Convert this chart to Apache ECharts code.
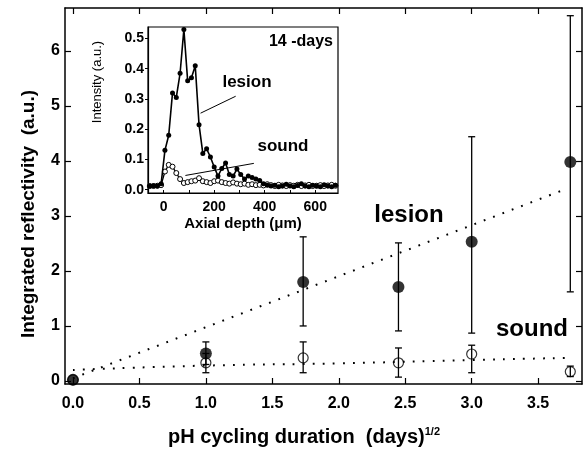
<!DOCTYPE html>
<html>
<head>
<meta charset="utf-8">
<script src="https://cdn.jsdelivr.net/npm/echarts@6/dist/echarts.min.js"></script>
<style>
html, body { margin: 0; padding: 0; background: #fff; }
#chart { width: 583px; height: 451px; }
</style>
</head>
<body>
<div id="chart"></div>
<script>
// 主图：积分反射率 vs pH循环时间的平方根
var sqrtDays = [0, 1, 1.732, 2.449, 3, 3.742];
var lesionVal = [0.02, 0.5, 1.8, 1.71, 2.53, 3.98];
var lesionLow = [null, 0.3, 1.0, 0.91, 0.87, 1.62];
var lesionHigh = [null, 0.71, 2.62, 2.51, 4.44, 6.64];
var soundVal = [0.02, 0.33, 0.42, 0.33, 0.49, 0.17];
var soundLow = [null, 0.15, 0.15, 0.07, 0.15, 0.08];
var soundHigh = [null, 0.5, 0.71, 0.6, 0.65, 0.27];

// 拟合虚线
var lesionFitX = [0, 3.72];
var lesionFitY = [0.05, 3.5];
var soundFitX = [0, 1, 2, 3, 3.72];
var soundFitY = [0.2, 0.28, 0.32, 0.38, 0.42];

var xTicks = [0, 0.5, 1, 1.5, 2, 2.5, 3, 3.5];
var yTicks = [0, 1, 2, 3, 4, 5, 6];

// 插图：14天 轴向深度剖面
var depthUm = [-55, -40, -25, -10, 5, 20, 35, 50, 65, 80, 95, 110, 125, 140, 155, 170, 185, 200, 215, 230,
    245, 260, 275, 290, 305, 320, 335, 350, 365, 380, 395, 410, 425, 440, 455, 470, 485, 500, 515, 530,
    545, 560, 575, 590, 605, 620, 635, 650, 665, 680];
var lesionProfile = [0.012, 0.013, 0.012, 0.02, 0.13, 0.18, 0.32, 0.305, 0.385, 0.53, 0.36, 0.37, 0.41, 0.215, 0.12, 0.135, 0.108, 0.075, 0.045, 0.07,
    0.088, 0.05, 0.045, 0.068, 0.05, 0.035, 0.045, 0.04, 0.035, 0.03, 0.02, 0.015, 0.012, 0.015, 0.01, 0.012, 0.018, 0.012, 0.01, 0.014,
    0.02, 0.012, 0.01, 0.015, 0.012, 0.01, 0.016, 0.012, 0.01, 0.015];
var soundProfile = [0.012, 0.012, 0.013, 0.015, 0.06, 0.082, 0.076, 0.055, 0.035, 0.022, 0.025, 0.028, 0.03, 0.038, 0.028, 0.025, 0.022, 0.028, 0.03, 0.025,
    0.022, 0.02, 0.024, 0.02, 0.018, 0.02, 0.016, 0.018, 0.015, 0.016, 0.014, 0.018, 0.015, 0.012, 0.016, 0.014, 0.012, 0.015, 0.013, 0.016,
    0.012, 0.014, 0.016, 0.012, 0.013, 0.015, 0.012, 0.014, 0.016, 0.013];
var insetXTicks = [0, 200, 400, 600];
var insetXMinor = [0, 100, 200, 300, 400, 500, 600];
var insetYTicks = [0, 0.1, 0.2, 0.3, 0.4, 0.5];

function pairs(xs, ys) {
    var out = [];
    for (var i = 0; i < xs.length; i++) {
        out.push([xs[i], ys[i]]);
    }
    return out;
}
function errData(xs, lo, hi) {
    var out = [];
    for (var i = 0; i < xs.length; i++) {
        if (lo[i] === null) continue;
        out.push([xs[i], lo[i], hi[i]]);
    }
    return out;
}
function errItem(params, api) {
    var x = api.value(0);
    var p1 = api.coord([x, api.value(1)]);
    var p2 = api.coord([x, api.value(2)]);
    var w = 3.5;
    var st = { stroke: '#000', lineWidth: 1.3 };
    return {
        type: 'group',
        children: [
            { type: 'line', shape: { x1: p1[0], y1: p1[1], x2: p2[0], y2: p2[1] }, style: st },
            { type: 'line', shape: { x1: p1[0] - w, y1: p1[1], x2: p1[0] + w, y2: p1[1] }, style: st },
            { type: 'line', shape: { x1: p2[0] - w, y1: p2[1], x2: p2[0] + w, y2: p2[1] }, style: st }
        ]
    };
}

var black = '#000';
var FONT = '"Liberation Sans", Arial, Helvetica, sans-serif';
var mainLine = { onZero: false, lineStyle: { color: black, width: 1.5 } };
var insetLine = { onZero: false, lineStyle: { color: black, width: 1.2 } };

var myChart = echarts.init(document.getElementById('chart'));
var option = {
    backgroundColor: '#fff',
    animation: false,
    textStyle: { fontFamily: FONT },
    grid: [
        { left: 65, right: 1, top: 8, bottom: 67 },
        { left: 148, top: 27, width: 190, height: 166, show: true, backgroundColor: '#fff',
          borderColor: black, borderWidth: 1.2, z: 5 }
    ],
    xAxis: [
        {
            gridIndex: 0, type: 'value', min: -0.06, max: 3.83,
            axisLine: mainLine,
            axisTick: { inside: true, length: 6, customValues: xTicks, lineStyle: { color: black, width: 1.2 } },
            axisLabel: { customValues: xTicks, margin: 12, color: black, fontSize: 16, fontWeight: 'bold',
                formatter: function (v) { return v.toFixed(1); } },
            splitLine: { show: false }
        },
        {
            gridIndex: 0, type: 'value', position: 'top', min: -0.06, max: 3.83,
            axisLine: mainLine,
            axisTick: { inside: true, length: 6, customValues: xTicks, lineStyle: { color: black, width: 1.2 } },
            axisLabel: { show: false },
            splitLine: { show: false }
        },
        {
            gridIndex: 1, type: 'value', min: -62, max: 690, z: 6,
            axisLine: insetLine,
            axisTick: { inside: true, length: 3, customValues: insetXMinor, lineStyle: { color: black } },
            axisLabel: { customValues: insetXTicks, margin: 7, color: black, fontSize: 14, fontWeight: 'bold' },
            splitLine: { show: false }
        }
    ],
    yAxis: [
        {
            gridIndex: 0, type: 'value', min: -0.055, max: 6.78,
            axisLine: mainLine,
            axisTick: { inside: true, length: 6, customValues: yTicks, lineStyle: { color: black, width: 1.2 } },
            axisLabel: { customValues: yTicks, margin: 5, color: black, fontSize: 16, fontWeight: 'bold' },
            splitLine: { show: false }
        },
        {
            gridIndex: 0, type: 'value', position: 'right', min: -0.055, max: 6.78,
            axisLine: mainLine,
            axisTick: { inside: true, length: 6, customValues: yTicks, lineStyle: { color: black, width: 1.2 } },
            axisLabel: { show: false },
            splitLine: { show: false }
        },
        {
            gridIndex: 1, type: 'value', min: -0.011, max: 0.538, z: 6,
            axisLine: insetLine,
            axisTick: { length: 3, customValues: insetYTicks, lineStyle: { color: black } },
            axisLabel: { customValues: insetYTicks, margin: 4, color: black, fontSize: 14, fontWeight: 'bold',
                formatter: function (v) { return v.toFixed(1); } },
            splitLine: { show: false }
        }
    ],
    series: [
        {
            type: 'line', xAxisIndex: 0, yAxisIndex: 0, data: pairs(lesionFitX, lesionFitY),
            symbol: 'none', lineStyle: { color: black, width: 2, type: [1.8, 8.2] }
        },
        {
            type: 'line', xAxisIndex: 0, yAxisIndex: 0, data: pairs(soundFitX, soundFitY),
            symbol: 'none', smooth: true, lineStyle: { color: black, width: 2, type: [1.8, 8.2] }
        },
        {
            type: 'custom', xAxisIndex: 0, yAxisIndex: 0, renderItem: errItem,
            data: errData(sqrtDays, lesionLow, lesionHigh), z: 3
        },
        {
            type: 'custom', xAxisIndex: 0, yAxisIndex: 0, renderItem: errItem,
            data: errData(sqrtDays, soundLow, soundHigh), z: 3
        },
        {
            type: 'scatter', xAxisIndex: 0, yAxisIndex: 0, data: pairs(sqrtDays, lesionVal),
            symbolSize: 12, itemStyle: { color: black }, z: 4
        },
        {
            type: 'scatter', xAxisIndex: 0, yAxisIndex: 0, data: pairs(sqrtDays, soundVal),
            symbolSize: 10, itemStyle: { color: 'rgba(0,0,0,0)', borderColor: black, borderWidth: 1.2 }, z: 4
        },
        // inset
        {
            type: 'line', xAxisIndex: 2, yAxisIndex: 2, data: pairs(depthUm, soundProfile), z: 7,
            symbol: 'circle', symbolSize: 5, showAllSymbol: true,
            lineStyle: { color: black, width: 1.3 },
            itemStyle: { color: '#fff', borderColor: black, borderWidth: 1 },
            markLine: {
                silent: true, symbol: 'none', animation: false,
                lineStyle: { color: black, width: 1, type: 'solid' }, label: { show: false },
                data: [
                    [{ coord: [357, 0.087] }, { coord: [86, 0.047] }],
                    [{ coord: [285, 0.309] }, { coord: [146, 0.253] }]
                ]
            }
        },
        {
            type: 'line', xAxisIndex: 2, yAxisIndex: 2, data: pairs(depthUm, lesionProfile), z: 8,
            symbol: 'circle', symbolSize: 5, showAllSymbol: true,
            lineStyle: { color: black, width: 1.6 },
            itemStyle: { color: black }
        }
    ],
    graphic: [
        { type: 'text', x: 29, y: 214, rotation: Math.PI / 2, z: 10,
          style: { text: 'Integrated reflectivity  (a.u.)', fill: black, font: 'bold 19px ' + FONT,
                   textAlign: 'center', textVerticalAlign: 'middle' } },
        { type: 'text', x: 304, y: 437, z: 10,
          style: { text: '{a|pH cycling duration  (days)}{s|1/2}', textAlign: 'center', textVerticalAlign: 'middle',
                   rich: { a: { font: 'bold 20px ' + FONT, fill: black },
                           s: { font: 'bold 11px ' + FONT, fill: black, verticalAlign: 'top', padding: [0, 0, 10, 0] } } } },
        { type: 'text', x: 409, y: 215, z: 10,
          style: { text: 'lesion', fill: black, font: 'bold 24px ' + FONT, textAlign: 'center', textVerticalAlign: 'middle' } },
        { type: 'text', x: 532, y: 329, z: 10,
          style: { text: 'sound', fill: black, font: 'bold 24px ' + FONT, textAlign: 'center', textVerticalAlign: 'middle' } },
        { type: 'text', x: 333, y: 42, z: 10,
          style: { text: '14 -days', fill: black, font: 'bold 16px ' + FONT, textAlign: 'right', textVerticalAlign: 'middle' } },
        { type: 'text', x: 247, y: 82, z: 10,
          style: { text: 'lesion', fill: black, font: 'bold 17px ' + FONT, textAlign: 'center', textVerticalAlign: 'middle' } },
        { type: 'text', x: 283, y: 146, z: 10,
          style: { text: 'sound', fill: black, font: 'bold 17px ' + FONT, textAlign: 'center', textVerticalAlign: 'middle' } },
        { type: 'text', x: 97, y: 82, rotation: Math.PI / 2, z: 10,
          style: { text: 'Intensity (a.u.)', fill: black, font: '13px ' + FONT, textAlign: 'center', textVerticalAlign: 'middle' } },
        { type: 'text', x: 243, y: 224, z: 10,
          style: { text: 'Axial depth (\u03bcm)', fill: black, font: 'bold 15px ' + FONT, textAlign: 'center', textVerticalAlign: 'middle' } }
    ]
};
myChart.setOption(option);
</script>
</body>
</html>
